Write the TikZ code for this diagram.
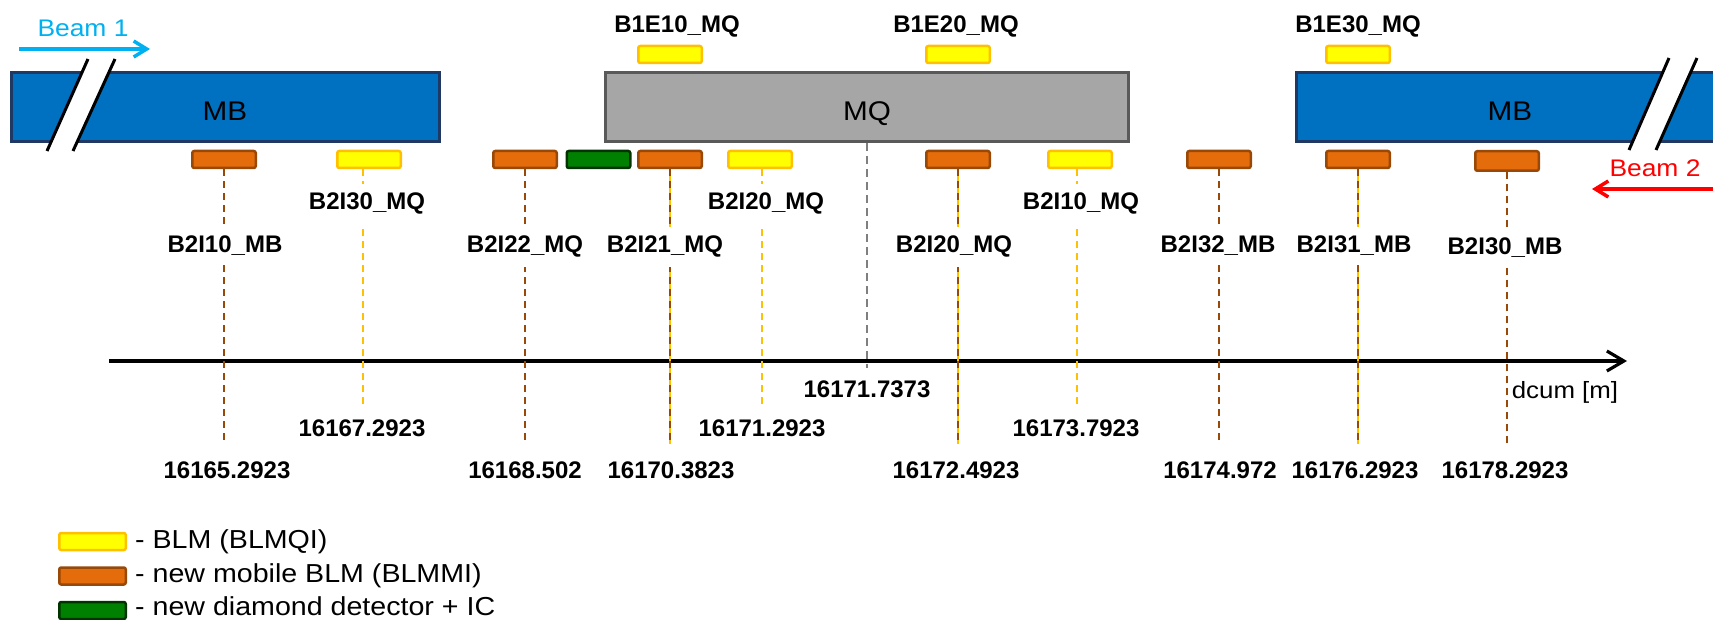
\documentclass[tikz,border=0pt]{standalone}
\usepackage{fontspec}
\setmainfont{Liberation Sans}
\newfontfamily\regfont[FakeStretch=1.1]{Liberation Sans}
\usetikzlibrary{arrows.meta}
\pgfdeclarelayer{background}
\pgfsetlayers{background,main}
\definecolor{mbblue}{HTML}{0070C0}
\definecolor{mbborder}{HTML}{1F3864}
\definecolor{mqgray}{HTML}{A6A6A6}
\definecolor{mqborder}{HTML}{595959}
\definecolor{orfill}{HTML}{E46C0A}
\definecolor{orborder}{HTML}{984807}
\definecolor{yefill}{HTML}{FFFF00}
\definecolor{yeborder}{HTML}{FFC000}
\definecolor{grfill}{HTML}{008000}
\definecolor{grborder}{HTML}{003300}
\definecolor{beamone}{HTML}{00B0F0}
\definecolor{beamtwo}{HTML}{FF0000}
\definecolor{dashgray}{HTML}{7F7F7F}
\tikzset{
  blm/.style={rectangle, inner sep=0pt, minimum width=63.5pt, minimum height=17pt, rounded corners=2pt, line width=2.5pt},
  orbox/.style={blm, fill=orfill, draw=orborder},
  yebox/.style={blm, fill=yefill, draw=yeborder},
  grbox/.style={blm, fill=grfill, draw=grborder},
  magnet/.style={rectangle, inner sep=0pt, line width=3pt, minimum height=69pt},
  mbmag/.style={magnet, fill=mbblue, draw=mbborder},
  mqmag/.style={magnet, fill=mqgray, draw=mqborder},
  magtext/.style={font=\regfont\fontsize{27}{32}\selectfont, anchor=base, inner sep=0pt},
  lab/.style={font=\bfseries\fontsize{24}{28}\selectfont, anchor=base, fill=white, inner xsep=2pt, inner ysep=9pt},
  num/.style={font=\bfseries\fontsize{24}{28}\selectfont, anchor=base, inner sep=0pt},
  legtext/.style={font=\regfont\fontsize{26}{30}\selectfont, anchor=base west, inner sep=0pt},
  beamtext/.style={font=\regfont\fontsize{24}{28}\selectfont, anchor=base, inner sep=0pt},
  brk/.style={line width=3pt, draw=black},
  beamarrow/.style={line width=3.5pt, -{Straight Barb[length=13pt, width=16pt]}},
  axisline/.style={line width=3.2pt, -{Straight Barb[length=17pt, width=20pt]}},
  brownline/.style={line width=2pt, draw=orborder, dash pattern=on 7pt off 5pt},
  yellowline/.style={line width=2pt, draw=yeborder, dash pattern=on 7pt off 5pt},
  yellowsolid/.style={line width=2pt, draw=yeborder},
  grayline/.style={line width=2pt, draw=dashgray, dash pattern=on 8pt off 5pt}
}
\begin{document}
\begin{tikzpicture}[x=1pt,y=-1pt]
\useasboundingbox (0,0) rectangle (1713,620);
% magnets
\node[mbmag, minimum width=428pt] (mbL) at (225.5,107) {};
\node[mqmag, minimum width=523pt] (mq) at (867,107) {};
\node[mbmag, minimum width=440pt] (mbR) at (1516.5,107) {};
\node[magtext] (mbLt) at (225,121) {MB};
\node[magtext] (mqt) at (867,121) {MQ};
\node[magtext] (mbRt) at (1510,121) {MB};
% break marks
\fill[white] (88,59) -- (115,59) -- (73,151) -- (47,151) -- cycle;
\draw[brk] (88,59) -- (47,151);
\draw[brk] (115,59) -- (73,151);
\fill[white] (1669,58) -- (1697,58) -- (1656,150) -- (1629,150) -- cycle;
\draw[brk] (1669,58) -- (1629,150);
\draw[brk] (1697,58) -- (1656,150);
% beams
\coordinate (b1s) at (19,49);
\coordinate (b1e) at (150,49);
\draw[beamarrow, draw=beamone] (b1s) -- (b1e);
\node[beamtext, text=beamone] (b1t) at (83,37) {Beam 1};
\coordinate (b2s) at (1725,189);
\coordinate (b2e) at (1592,189);
\draw[beamarrow, draw=beamtwo] (b2s) -- (b2e);
\node[beamtext, text=beamtwo] (b2t) at (1655,177) {Beam 2};
% detectors, bottom row
\node[orbox] (o1) at (224,159.5) {};
\node[yebox] (y1) at (369,159.5) {};
\node[orbox] (o2) at (525,159.5) {};
\node[grbox] (g1) at (598.5,159.5) {};
\node[orbox] (o3) at (670,159.5) {};
\node[yebox] (y2) at (760,159.5) {};
\node[orbox] (o4) at (958,159.5) {};
\node[yebox] (y3) at (1080,159.5) {};
\node[orbox] (o5) at (1219,159.5) {};
\node[orbox] (o6) at (1358,159.5) {};
\node[orbox, minimum height=19.5pt] (o7) at (1507,161) {};
% detectors, top row
\node[yebox] (t1) at (670,54.5) {};
\node[yebox] (t2) at (958,54.5) {};
\node[yebox] (t3) at (1358,54.5) {};
% axis and line ends
\coordinate (ax0) at (109,361);
\coordinate (ax1) at (1627,361);
\coordinate (o1e) at (224,444);
\coordinate (o2e) at (525,444);
\coordinate (o3e) at (670,444);
\coordinate (o4e) at (958,444);
\coordinate (o5e) at (1219,444);
\coordinate (o6e) at (1358,444);
\coordinate (o7e) at (1507,444);
\coordinate (y1e) at (363,407);
\coordinate (y2e) at (762,407);
\coordinate (y3e) at (1077,407);
\coordinate (mqe) at (867,368);
\begin{pgfonlayer}{background}
\draw[axisline] (ax0) -- (ax1);
\draw[brownline] (o1.south) -- (o1e);
\draw[brownline] (o2.south) -- (o2e);
\draw[yellowsolid] (o3.south) -- (o3e);
\draw[brownline] (o3.south) -- (o3e);
\draw[yellowsolid] (o4.south) -- (o4e);
\draw[brownline] (o4.south) -- (o4e);
\draw[brownline] (o5.south) -- (o5e);
\draw[yellowsolid] (o6.south) -- (o6e);
\draw[brownline] (o6.south) -- (o6e);
\draw[brownline] (o7.south) -- (o7e);
\draw[yellowline] (y1.south -| y1e) -- (y1e);
\draw[yellowline] (y2.south -| y2e) -- (y2e);
\draw[yellowline] (y3.south -| y3e) -- (y3e);
\draw[grayline] (mq.south) -- (mqe);
\end{pgfonlayer}
% labels
\node[lab] (lB2I30MQ) at (367,210) {B2I30\_MQ};
\node[lab] (lB2I20MQa) at (766,210) {B2I20\_MQ};
\node[lab] (lB2I10MQ) at (1081,210) {B2I10\_MQ};
\node[lab] (lB2I10MB) at (225,253) {B2I10\_MB};
\node[lab] (lB2I22MQ) at (525,253) {B2I22\_MQ};
\node[lab] (lB2I21MQ) at (665,253) {B2I21\_MQ};
\node[lab] (lB2I20MQb) at (954,253) {B2I20\_MQ};
\node[lab] (lB2I32MB) at (1218,253) {B2I32\_MB};
\node[lab] (lB2I31MB) at (1354,253) {B2I31\_MB};
\node[lab] (lB2I30MB) at (1505,255) {B2I30\_MB};
\node[num] (lB1E10) at (677,33) {B1E10\_MQ};
\node[num] (lB1E20) at (956,33) {B1E20\_MQ};
\node[num] (lB1E30) at (1358,33) {B1E30\_MQ};
% positions
\node[num] (n1) at (362,436) {16167.2923};
\node[num] (n2) at (762,436) {16171.2923};
\node[num] (n3) at (1076,436) {16173.7923};
\node[num] (n4) at (867,397) {16171.7373};
\node[num] (n5) at (227,478) {16165.2923};
\node[num] (n6) at (525,478) {16168.502};
\node[num] (n7) at (671,478) {16170.3823};
\node[num] (n8) at (956,478) {16172.4923};
\node[num] (n9) at (1220,478) {16174.972};
\node[num] (n10) at (1355,478) {16176.2923};
\node[num] (n11) at (1505,478) {16178.2923};
\node[font=\regfont\fontsize{23.5}{28}\selectfont, anchor=base, inner sep=0pt] (dcum) at (1565,398) {dcum [m]};
% legend
\node[yebox, minimum width=66.5pt] (leg1) at (92.5,541.5) {};
\node[orbox, minimum width=66.5pt] (leg2) at (92.5,576) {};
\node[grbox, minimum width=66.5pt] (leg3) at (92.5,610.5) {};
\node[legtext] (leg1t) at (135,548) {- BLM (BLMQI)};
\node[legtext] (leg2t) at (135,582) {- new mobile BLM (BLMMI)};
\node[legtext] (leg3t) at (135,615) {- new diamond detector + IC};
\end{tikzpicture}
\end{document}
